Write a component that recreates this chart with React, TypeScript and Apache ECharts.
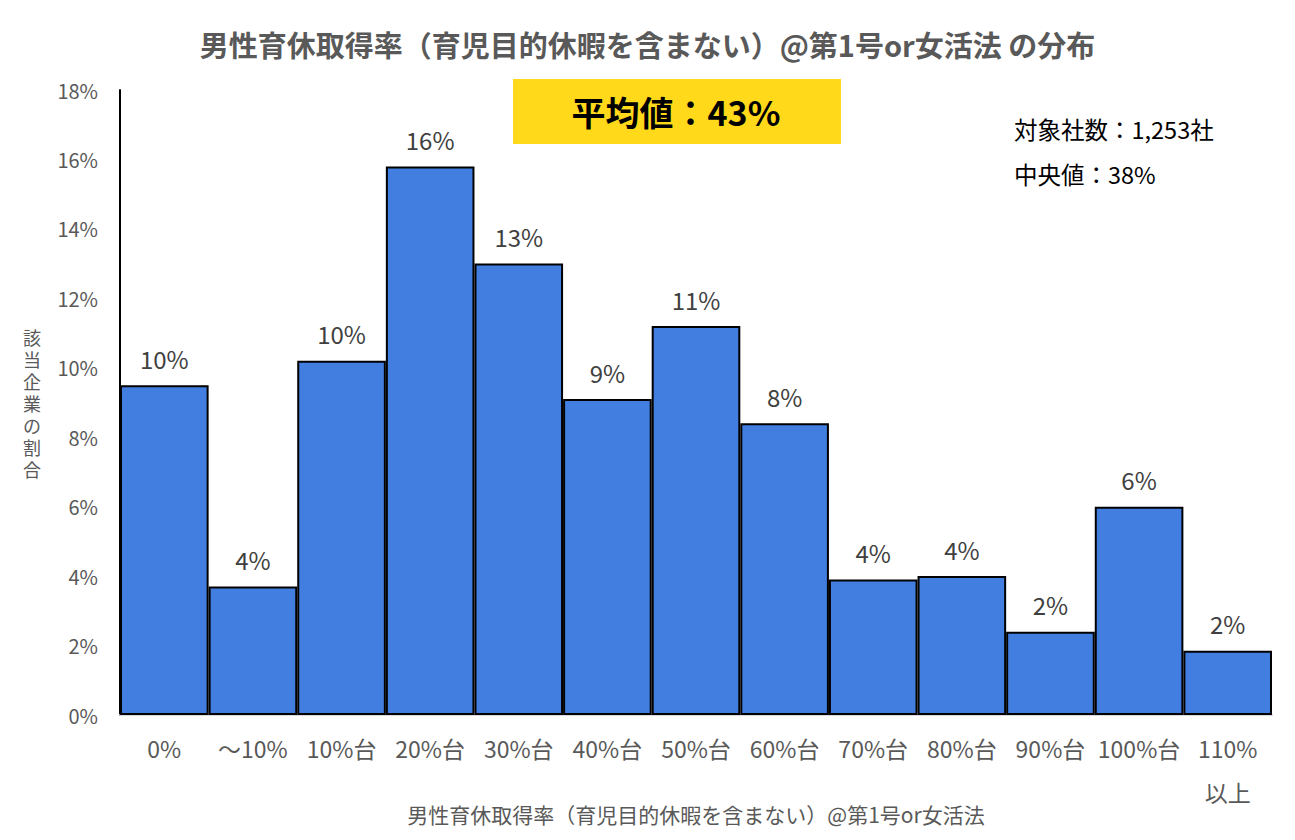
import React, { useEffect, useRef } from "react";
import * as echarts from "echarts";

const categories = ["0%", "～10%", "10%台", "20%台", "30%台", "40%台", "50%台", "60%台", "70%台", "80%台", "90%台", "100%台", "110%\n以上"];
const shares = [9.5, 3.7, 10.2, 15.8, 13.0, 9.1, 11.2, 8.4, 3.9, 4.0, 2.4, 6.0, 1.85];
const yTicks = { min: 0, max: 18, interval: 2 };
const titleText = "男性育休取得率（育児目的休暇を含まない）@第1号or女活法 の分布";
const xAxisName = "男性育休取得率（育児目的休暇を含まない）@第1号or女活法";
const yAxisName = "該当企業の割合";
const meanText = "平均値：43%";
const countText = "対象社数：1,253社";
const medianText = "中央値：38%";

const FONT = "'Noto Sans CJK JP', 'Noto Sans', sans-serif";

export default function App() {
  const ref = useRef<HTMLDivElement>(null);
  useEffect(() => {
    document.body.style.margin = "0";
    const chart = echarts.init(ref.current!, null, { renderer: "svg" });
    chart.setOption({
      animation: false,
      backgroundColor: "#ffffff",
      textStyle: { fontFamily: FONT },
      title: {
        text: titleText,
        left: "center",
        top: 24,
        textStyle: { fontSize: 29, fontWeight: "bold", color: "#595959", fontFamily: FONT },
      },
      grid: { left: 120, right: 23, top: 90, bottom: 125, containLabel: false, outerBoundsMode: "none" },
      xAxis: {
        type: "category",
        data: categories,
        name: xAxisName,
        nameLocation: "middle",
        nameGap: 88,
        nameMoveOverlap: false,
        nameTextStyle: { fontSize: 21, color: "#595959", fontFamily: FONT },
        axisLine: { show: true, lineStyle: { color: "#d9d9d9", width: 2 } },
        axisTick: { show: false },
        axisLabel: { fontSize: 23, color: "#595959", margin: 11, lineHeight: 44, interval: 0, fontFamily: FONT, verticalAlign: "top" },
      },
      yAxis: {
        type: "value",
        min: yTicks.min,
        max: yTicks.max,
        interval: yTicks.interval,
        name: yAxisName.split("").join("\n"),
        nameLocation: "middle",
        nameGap: 79,
        nameRotate: 0,
        nameMoveOverlap: false,
        nameTextStyle: { fontSize: 18, lineHeight: 22, color: "#595959", fontFamily: FONT },
        axisLine: { show: true, lineStyle: { color: "#000000", width: 2 } },
        axisTick: { show: false },
        splitLine: { show: false },
        axisLabel: { fontSize: 20, color: "#595959", margin: 22, formatter: (v: number) => `${v}%`, fontFamily: FONT },
      },
      series: [
        {
          type: "bar",
          data: shares,
          barCategoryGap: "0%",
          itemStyle: { color: "#427EDF", borderColor: "#000000", borderWidth: 2 },
          label: {
            show: true,
            position: "top",
            distance: 15,
            fontSize: 24,
            color: "#404040",
            fontFamily: FONT,
            formatter: (p: any) => `${Math.round(p.value)}%`,
          },
        },
      ],
      graphic: [
        {
          type: "rect",
          shape: { x: 513, y: 79, width: 328, height: 65 },
          style: { fill: "#FFD91A" },
        },
        {
          type: "text",
          x: 676,
          y: 111,
          style: {
            text: meanText,
            fontSize: 34,
            fontWeight: "bold",
            fill: "#000000",
            align: "center",
            verticalAlign: "middle",
            fontFamily: FONT,
          },
        },
        {
          type: "text",
          x: 1014,
          y: 129,
          style: { text: countText, fontSize: 23.5, fill: "#000000", align: "left", verticalAlign: "middle", fontFamily: FONT },
        },
        {
          type: "text",
          x: 1014,
          y: 174,
          style: { text: medianText, fontSize: 23.5, fill: "#000000", align: "left", verticalAlign: "middle", fontFamily: FONT },
        },
      ],
    });
    return () => chart.dispose();
  }, []);
  return <div ref={ref} style={{ width: 1295, height: 840 }} />;
}
